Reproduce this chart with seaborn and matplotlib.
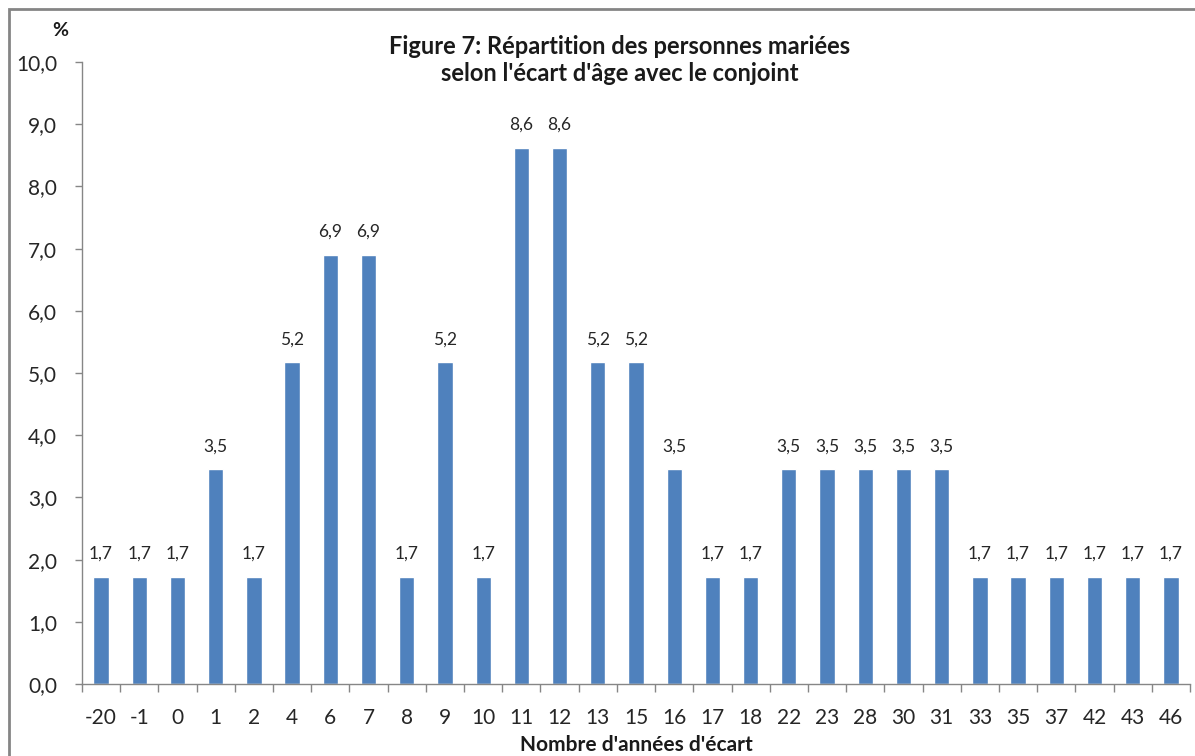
import matplotlib
matplotlib.use("Agg")
import matplotlib.pyplot as plt
import seaborn as sns
import pandas as pd
from matplotlib.patches import Rectangle
from matplotlib.ticker import FixedLocator

categories = ["-20", "-1", "0", "1", "2", "4", "6", "7", "8", "9", "10", "11", "12",
              "13", "15", "16", "17", "18", "22", "23", "28", "30", "31", "33", "35",
              "37", "42", "43", "46"]
values = [1.72, 1.72, 1.72, 3.45, 1.72, 5.17, 6.90, 6.90, 1.72, 5.17, 1.72, 8.62, 8.62,
          5.17, 5.17, 3.45, 1.72, 1.72, 3.45, 3.45, 3.45, 3.45, 3.45, 1.72, 1.72,
          1.72, 1.72, 1.72, 1.72]
yticks = [0, 1, 2, 3, 4, 5, 6, 7, 8, 9, 10]

title = "Figure 7: Répartition des personnes mariées\nselon l'écart d'âge avec le conjoint"
xlabel = "Nombre d'années d'écart"
ylabel = "%"

sns.set_style("white")
plt.rcParams["font.family"] = ["Lato", "DejaVu Sans"]

W, H = 1195, 756
fig = plt.figure(figsize=(W / 100, H / 100), dpi=100)
ax = fig.add_axes([82 / W, 1 - 684 / H, (1190 - 82) / W, (684 - 62) / H])

df = pd.DataFrame({"cat": categories, "val": values})
sns.barplot(data=df, x="cat", y="val", order=categories, color="#4F81BD",
            saturation=1, width=0.4, ax=ax)

for i, v in enumerate(values):
    ax.text(i, v + 0.24, f"{v:.1f}".replace(".", ","), ha="center", va="bottom",
            fontsize=12.5, color="#262626")

ax.set_xlim(-0.5, len(categories) - 0.5)
ax.set_ylim(0, 10)
ax.set_yticks(yticks)
ax.set_yticklabels([f"{t:.1f}".replace(".", ",") for t in yticks])
ax.set_xlabel("")
ax.set_ylabel("")

spine_c = "#868686"
for s in ["top", "right"]:
    ax.spines[s].set_visible(False)
for s in ["left", "bottom"]:
    ax.spines[s].set_color(spine_c)
    ax.spines[s].set_linewidth(1.0)

ax.xaxis.set_minor_locator(FixedLocator([i - 0.5 for i in range(len(categories) + 1)]))
ax.tick_params(axis="x", which="major", length=0, pad=17, labelsize=15, labelcolor="#262626")
ax.tick_params(axis="x", which="minor", length=6, width=1, color=spine_c, direction="out", bottom=True)
ax.tick_params(axis="y", which="major", length=5, width=1, color=spine_c, direction="out",
               left=True, pad=13, labelsize=15, labelcolor="#262626")

fig.text(620 / W, 1 - 60 / H, title, ha="center", va="center", fontsize=17,
         fontweight="bold", color="#1a1a1a", linespacing=1.25)
fig.text(636 / W, 1 - 745 / H, xlabel, ha="center", va="center", fontsize=15,
         fontweight="bold", color="#1a1a1a")
fig.text(60 / W, 1 - 30 / H, ylabel, ha="center", va="center", fontsize=14,
         fontweight="bold", color="#1a1a1a")

fig.patches.append(Rectangle((9 / W, -0.05), 1.1, 1 - 9 / H + 0.05, transform=fig.transFigure,
                             fill=False, edgecolor="#858585", linewidth=2, figure=fig))

fig.savefig("out.png", dpi=100)
